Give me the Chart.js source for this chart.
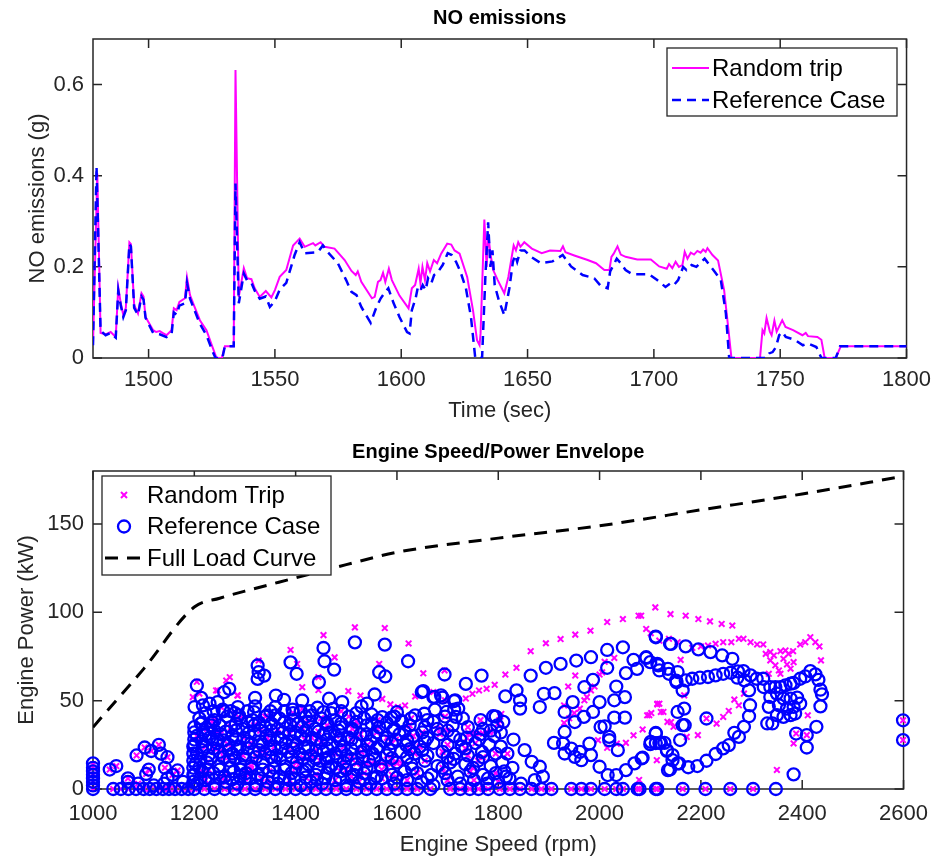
<!DOCTYPE html>
<html>
<head>
<meta charset="utf-8">
<script src="https://cdn.jsdelivr.net/npm/chart.js@4.4.0/dist/chart.umd.min.js"></script>
<style>
  body { margin: 0; background: #fff; }
  canvas { position: absolute; left: 0; }
</style>
</head>
<body>
<canvas id="noChart" width="940" height="430" style="top:0"></canvas>
<canvas id="envChart" width="940" height="432" style="top:430px"></canvas>
<script>
// ---- NO emissions over time ----
const tripTime = [1478,1479.7,1481,1483,1485,1487,1488,1489,1490,1491,1492.4,1493,1494.3,1495.8,1497.2,1498,1498.8,1501.8,1503,1504.4,1505.5,1507.1,1509.1,1510,1511.1,1512.2,1514.4,1515.2,1516.4,1518,1520.3,1522.9,1525.3,1526.9,1529,1530.2,1533.7,1534.4,1535.7,1537.7,1539,1540.7,1542,1544,1546.4,1548.6,1550,1551.9,1554.5,1557.2,1559.8,1561.8,1565.1,1566,1568.1,1569.7,1573.6,1577.6,1580.3,1582,1582.8,1584.2,1588.4,1589.5,1590.8,1591.8,1592.8,1593.7,1595.1,1596.3,1599.3,1602.9,1604.2,1605.5,1606.9,1607.6,1608.4,1609.4,1610.3,1611.4,1612.9,1614.2,1615.8,1618.2,1619.8,1621.1,1623.1,1626.1,1628.4,1630,1631,1631.4,1632.9,1633.8,1634.4,1635.3,1636.4,1638.2,1640.8,1642.4,1644.5,1645.4,1646.3,1647.2,1648.7,1651.7,1655.6,1658.9,1663,1664,1665,1668.5,1673.8,1677.1,1680.4,1682.4,1683.2,1684.1,1685.6,1686.9,1688.8,1693.4,1698.8,1702.1,1705.1,1706,1707.3,1708.6,1709.9,1711.3,1712.2,1713.3,1714.6,1715.9,1717.2,1718.5,1719.5,1720.5,1721.2,1723.2,1725.4,1727.8,1729.4,1730.7,1742,1743,1743.7,1744.6,1745.9,1746.6,1747.7,1748.6,1750.8,1752.1,1755.1,1758.8,1760.1,1761,1764.7,1766.3,1767.6,1772,1774,1800];
const tripNO = [0.03,0.405,0.055,0.052,0.057,0.046,0.155,0.12,0.094,0.11,0.254,0.25,0.116,0.098,0.142,0.135,0.09,0.061,0.057,0.059,0.055,0.05,0.061,0.109,0.105,0.123,0.131,0.177,0.138,0.115,0.083,0.061,0.024,0,0,0.026,0.026,0.632,0.134,0.197,0.175,0.173,0.153,0.134,0.147,0.133,0.149,0.178,0.193,0.247,0.262,0.244,0.252,0.247,0.254,0.244,0.24,0.215,0.191,0.182,0.19,0.167,0.131,0.134,0.167,0.171,0.187,0.167,0.196,0.171,0.137,0.109,0.153,0.16,0.196,0.164,0.2,0.171,0.208,0.19,0.215,0.208,0.229,0.251,0.249,0.236,0.229,0.178,0.105,0.039,0.028,0.054,0.304,0.2,0.273,0.229,0.193,0.171,0.142,0.178,0.247,0.236,0.254,0.244,0.254,0.24,0.23,0.236,0.235,0.245,0.232,0.225,0.215,0.208,0.193,0.193,0.222,0.229,0.245,0.227,0.222,0.216,0.216,0.201,0.196,0.206,0.197,0.211,0.2,0.204,0.233,0.218,0.231,0.227,0.235,0.231,0.238,0.233,0.241,0.226,0.214,0.149,0.068,0,0,0.061,0.054,0.088,0.058,0.05,0.082,0.058,0.083,0.068,0.061,0.05,0.055,0.048,0.046,0.04,0,0,0.026,0.026];

const refTime = [1478,1479.4,1481,1483,1485,1487,1488,1489,1490,1491,1492.4,1493,1494.3,1495.8,1497.2,1498,1498.8,1501.8,1504.4,1507.1,1509.1,1510,1511.1,1512.2,1514.4,1515.2,1516.4,1520.3,1522.9,1525.3,1526.5,1529.2,1530.2,1533.7,1534.4,1535.7,1537.7,1539,1540.7,1542,1544,1546.4,1548,1550,1551.9,1554.5,1557.8,1559.8,1561.8,1567,1569,1571,1574.9,1578.2,1580.3,1582.3,1584.2,1587.9,1590.2,1591.9,1593.3,1594.9,1597,1599.3,1602.3,1603.3,1604.2,1605.7,1606.6,1607.7,1608.5,1609.7,1610.6,1611.9,1613,1614.3,1616.4,1618.4,1620,1621.7,1623.4,1625.6,1627.6,1629.3,1632,1633.3,1634.4,1635.3,1636.1,1637,1638.6,1640.8,1642.8,1644.2,1645.1,1645.9,1647.2,1648.8,1651.4,1655.3,1659.9,1663.9,1667.2,1671.8,1676.4,1679,1681.7,1682.7,1685.3,1686.9,1688.8,1691.4,1698,1701.3,1704.6,1706.6,1707.9,1709.6,1711.6,1712.9,1714.9,1716.8,1720.1,1722,1724,1726.5,1728.5,1729.8,1744.3,1745.6,1747,1748.3,1749.6,1750.9,1752.2,1755.7,1759,1761,1764.3,1766.3,1772,1773.7,1800];
const refNO = [0.028,0.42,0.06,0.05,0.055,0.045,0.148,0.115,0.09,0.105,0.25,0.245,0.11,0.095,0.135,0.128,0.088,0.055,0.052,0.046,0.052,0.1,0.095,0.115,0.12,0.165,0.13,0.075,0.05,0.015,0,0,0.026,0.026,0.383,0.12,0.185,0.17,0.165,0.148,0.13,0.135,0.112,0.125,0.15,0.165,0.226,0.254,0.23,0.232,0.247,0.232,0.208,0.171,0.145,0.138,0.112,0.077,0.112,0.131,0.142,0.153,0.12,0.09,0.057,0.054,0.105,0.131,0.156,0.149,0.16,0.149,0.175,0.164,0.182,0.187,0.204,0.23,0.226,0.211,0.19,0.153,0.09,0,0,0.178,0.298,0.2,0.236,0.16,0.127,0.094,0.153,0.211,0.226,0.211,0.236,0.236,0.222,0.208,0.212,0.226,0.201,0.182,0.175,0.158,0.153,0.19,0.218,0.208,0.193,0.184,0.184,0.171,0.156,0.164,0.16,0.171,0.2,0.193,0.204,0.2,0.218,0.204,0.19,0.171,0.098,0,0,0.01,0.013,0.024,0.05,0.057,0.046,0.04,0.028,0.032,0.024,0,0,0.026,0.026];

const timeTicks = [1500, 1550, 1600, 1650, 1700, 1750, 1800];
const noTicks = [0, 0.2, 0.4, 0.6];

// ---- Engine speed / power envelope ----
const fullLoadRpm = [1000, 1100, 1200, 1250, 1300, 1400, 1500, 1600, 1800, 2000, 2200, 2400, 2600];
const fullLoadKw  = [35, 68, 103, 108, 112, 119.5, 127, 134, 142, 149, 158, 167, 177];

const refIdleRpm = [1040,1055,1070,1085,1100,1112,1125,1138,1150,1162,1175,1188,1200,1220,1240,1260,1280,1300,1320,1340,1360,1380,1400,1420,1440,1460,1480,1500,1520,1540,1560,1580,1600,1620,1640,1666,1705,1725,1744,1761,1780,1803,1823,1843,1866,1885,1905,1944,1964,1983,2010,2033,2046,2075,2079,2111,2114,2164,2209,2258,2303,2348];
const tripIdleRpm = [1040,1055,1070,1085,1100,1112,1125,1138,1150,1162,1175,1188,1200,1220,1240,1260,1280,1300,1320,1340,1360,1380,1400,1420,1440,1460,1480,1500,1520,1540,1560,1580,1600,1620,1640,1666,1705,1725,1744,1761,1780,1803,1823,1843,1866,1885,1905,1944,1964,1983,2010,2033,2046,2075,2079,2111,2114,2164,2209,2258,2303];

const refCasePoints = [
  [1000,0],[1000,2],[1000,4],[1000,6],[1000,8],[1000,10],[1000,12],[1000,14.5],
  [1033,11],[1046,13],[1069,6],[1069,4],[1086,19],[1102,23.5],[1115,21.5],[1130,25],[1134,20],[1147,18],[1089,3],[1105,8.5],[1110,11],[1142,12],[1147,6],[1157,8],[1167,10.5],[1140,3],[1120,2],[1178,4],
  [1198,4],[1198,8],[1198,12],[1198,16],[1198,20],[1198,24],[1200,28],[1200,32],
  [1205,58.6],[1200.5,46.4],[1217,47.3],[1213.5,51.6],[1230,48.3],[1246,49.2],[1259,54.8],[1269,56.7],[1256,44.9],[1272,44.1],[1286,46.4],[1288,41.7],[1213,37],[1233,36],[1222,30.4],
  [1325,69.9],[1327,66.1],[1325,62.3],[1338,64.2],[1320,51.6],[1320,46.8],[1361,52.9],[1377,50.5],[1394,44.9],[1390,71.7],[1402,65.2],[1343,41.7],[1360,46.4],[1360,41.7],[1413,50.1],[1432,41.7],[1443,46],[1446,60.5],[1455,79.8],[1457,72.3],[1476,67.6],[1466,51.1],[1474,45.4],[1492,49.2],
  [1517,83],[1530,46.8],[1541,48.3],[1556,53.5],[1565,66.1],[1577,63.7],[1576,81.7],[1550,42.2],[1571,40.7],[1589,40.4],[1609,38.5],[1622,72.3],[1636,41.7],[1652,55.4],[1654,42.6],[1694,64.8],[1672,52],[1687,53],[1715,50.2],[1721,45.5],[1736,59.5],[1767,64.2],[1649,54.9],[1674,52.1],[1690,51.7],[1713,49.8],[1675,44.9],[1698,43.6],[1713,44.9],[1716,40.8],[1790,41.2],
  [1814,52.4],[1836,55.8],[1864,64.2],[1894,68.6],[1923,70.8],[1954,72.7],[1983,74.6],[2015,78.7],[2046,80.2],[2067,73.1],[2074,68],[2092,74.2],[2111,85.9],[2114,70.8],[2135,68],[2141,82.1],[2151,61.4],
  [1843,50.2],[1843,45.5],[1890,53.9],[1911,54.3],[1882,46.4],[1931,43.6],[1947,49.2],[1970,57.7],[1987,61.8],[2000,49.2],[2015,68.6],[2033,58],[2050,52],[2029,50.2],[2052,65.6],
  [1931,32.3],[1951,37.9],[1969,40.8],[1987,43.6],[2002,35.1],[2010,35.5],[2019,29.5],[2029,40.4],[2050,40.4],[2036,22],[2019,27.6],
  [1910,26.1],[1928,25.7],[1944,22.9],[1961,21],[1980,25.7],[1931,20.1],[1951,18.2],[1964,16.3],[1983,19.2],[2000,12.6],[2016,7.9],[2033,7.9],[2052,10.7],[2069,14.5],[2083,17.3],
  [1852,22],[1866,15.4],[1882,12.6],[1888,7],[1872,5],
  [2111,31.7],[2101,26.7],[2118,26.1],[2128,26.1],[2133,22],[2144,16.3],[2154,14.5],[2135,10.7],
  [2111,86.3],[2139,82.2],[2170,80.7],[2195,79],[2219,77.5],[2242,75.6],[2262,73.7],
  [2092,74.6],[2100,71.8],[2116,70],[2118,67.1],[2137,65.2],[2154,66.2],[2152,60.5],[2170,61.5],[2164,55.8],[2183,62.4],[2198,63],[2214,63.4],[2229,64.3],[2244,65.2],[2259,65.8],[2273,66.6],[2284,66.7],[2272,63],[2286,61.5],[2295,55.8],[2298,64.3],[2310,62.4],[2323,62.4],
  [2324,57.7],[2337,57.7],[2347,57.7],[2357,57.7],[2367,58.7],[2377,59.6],[2383,60],[2337,52.1],[2350,54],[2363,51.2],[2377,51.2],[2390,51.7],[2334,46.5],[2354,47.4],[2370,45.5],[2383,46.5],[2331,37.1],[2341,37.1],[2350,41.8],[2363,40.8],[2377,41.8],[2386,42.7],[2396,48.3],
  [2396,62.4],[2406,63.7],[2416,66.7],[2426,64.9],[2432,61.8],[2436,56.2],[2439,53.6],[2436,46.8],[2428,35.2],[2388,31.4],[2409,30.5],[2409,23.5],[2383,8.3],
  [2297,47.4],[2295,41.2],[2285,35.2],[2275,29.5],[2266,31.8],[2255,24.8],[2244,23],[2229,19.8],[2211,16],[2193,13],[2175,12.3],[2157,14.5],[2139,11.1],[2144,19.2],[2133,21.6],[2085,17.7],
  [2167,45.5],[2168,36.1],[2154,43.6],[2164,36.1],[2159,27.7],[2111,31.4],[2111,26],[2100,25.4],[2121,26.2],[2211,39.9],
  [2599,38.9],[2599,27.7],
  // dense low-load region
  [1205,3],[1222,5],[1240,2],[1262,4],[1285,3],[1300,6],[1322,2],[1345,4],[1365,3],[1388,5],[1410,2],[1430,4],[1452,3],[1478,5],[1500,2],[1525,4],[1548,3],[1570,6],[1595,3],[1620,5],[1648,4],[1672,2],[1700,5],[1725,3],[1752,5],[1778,3],[1800,4],[1822,6],[1845,3],
  [1200,8],[1215,10],[1238,9],[1260,7],[1278,10],[1302,9],[1325,8],[1348,10],[1368,7],[1392,9],[1415,10],[1440,8],[1462,9],[1488,10],[1515,8],[1535,9],[1560,7],[1590,8],[1615,10],[1640,9],[1668,8],[1695,9],[1720,7],[1745,10],[1770,8],[1795,9],[1815,7],
  [1202,14],[1225,15],[1248,13],[1270,16],[1290,14],[1312,13],[1335,15],[1358,16],[1380,13],[1402,15],[1425,14],[1448,16],[1470,13],[1495,15],[1520,14],[1545,16],[1568,13],[1600,15],[1628,14],[1655,16],[1680,13],[1705,15],[1735,14],[1760,16],[1785,13],[1808,15],
  [1205,20],[1228,19],[1250,21],[1275,20],[1296,19],[1318,21],[1340,20],[1362,19],[1385,21],[1408,20],[1430,19],[1455,21],[1478,20],[1500,19],[1530,21],[1552,20],[1580,19],[1608,21],[1635,20],[1660,19],[1690,21],[1715,20],[1740,19],[1768,21],[1795,20],
  [1200,25],[1222,24],[1245,26],[1268,25],[1290,24],[1312,26],[1335,25],[1358,24],[1380,26],[1402,25],[1425,24],[1450,26],[1472,25],[1495,24],[1518,26],[1542,25],[1565,24],[1590,26],[1618,25],[1645,24],[1672,26],[1700,25],[1728,24],[1755,26],[1782,25],[1805,24],
  [1205,30],[1230,29],[1252,31],[1275,30],[1298,29],[1320,31],[1342,30],[1365,29],[1388,31],[1410,30],[1432,29],[1455,31],[1480,30],[1505,29],[1528,31],[1555,30],[1580,29],[1605,31],[1632,30],[1660,29],[1685,31],[1712,30],[1738,29],[1765,31],[1792,30],
  [1200,35],[1225,34],[1250,36],[1272,35],[1295,34],[1318,36],[1340,35],[1365,34],[1390,36],[1412,35],[1438,34],[1462,36],[1488,35],[1512,34],[1540,36],[1565,35],[1595,34],[1625,36],[1655,35],[1680,34],[1710,36],[1740,35],[1770,34],[1798,36],
  [1210,40],[1240,39],[1265,41],[1290,40],[1315,39],[1340,41],[1368,40],[1395,39],[1420,41],[1450,40],[1478,39],[1505,41],[1535,40],[1562,39],[1595,41],[1628,40],[1660,39],[1695,41],[1730,40],[1765,39],[1795,41],
  [1212,6],[1250,11],[1232,17],[1268,22],[1245,28],[1282,33],[1222,43],[1258,44],
  [1310,6],[1335,11],[1352,18],[1372,23],[1330,27],[1352,33],[1305,44],[1378,44],
  [1398,6],[1420,11],[1440,17],[1418,23],[1462,28],[1400,32],[1428,44],[1470,43],
  [1458,6],[1480,12],[1465,18],[1490,22],[1440,28],[1485,33],
  [1520,11],[1555,17],[1575,27],[1540,31],[1610,38],[1585,22],
  [1228,6],[1250,6.5],[1275,5.5],[1290,7],[1332,6],[1355,7],[1378,6],[1420,6.5],[1442,5.5],[1488,6],[1510,7],[1535,5.5],[1555,6],[1600,6.5],
  [1210,12],[1228,11],[1272,12],[1292,11],[1312,11.5],[1358,12],[1378,11],[1400,12],[1445,11.5],[1465,12],[1500,11],[1540,12],[1570,11],[1630,11.5],
  [1212,17],[1258,18],[1280,17.5],[1300,17],[1322,18],[1370,17],[1392,18],[1415,17.5],[1460,17],[1482,18],[1510,17],[1532,18],[1590,17.5],[1620,18],
  [1215,22],[1238,23],[1285,22.5],[1305,23],[1328,22],[1350,22.5],[1395,23],[1440,22],[1462,23],[1510,22.5],[1535,22],[1560,23],[1625,22.5],[1650,22],
  [1215,27],[1235,28],[1258,27.5],[1282,28],[1305,27],[1348,27.5],[1372,28],[1395,27],[1418,28],[1488,27.5],[1510,28],[1548,27],[1598,28],[1620,27.5],
  [1218,32],[1240,33],[1262,32.5],[1308,32],[1330,33],[1375,32],[1420,33],[1445,32.5],[1468,32],[1512,33],[1560,32],[1592,33],[1615,32.5],[1650,32],
  [1215,37.5],[1235,38],[1282,37],[1305,38],[1328,37.5],[1352,37],[1378,38],[1405,37],[1425,38],[1462,37.5],[1490,37],[1520,38],[1550,37],[1580,37.5],
  [1238,44],[1280,43],[1318,43.5],[1350,44],[1395,43],[1410,44],[1455,43.5],[1490,44],[1520,43],[1600,43.5],
  [1660,6],[1690,12],[1712,17],[1735,23],[1762,28],[1785,33],[1810,38],[1828,12],[1818,20],[1830,28],
  [1805,32],[1780,6],[1750,12],[1725,28],[1700,33],[1672,38],[1655,27],[1700,18],[1770,18],[1812,10]
];

const randomTripPoints = [
  [1000,0],[1000,4],[1000,8],[1000,12],[1000,14],
  [1033,11],[1046,13],[1069,6],[1086,19],[1102,23.5],[1115,21.5],[1130,25],[1147,18],[1105,8.5],[1110,11],[1142,12],[1157,8],[1167,10.5],[1089,3],
  [1205,60.7],[1197,52],[1210,54],[1243,55.8],[1263,61.4],[1270,63.3],[1285,53],[1254,46],[1246,55.8],[1286,52.9],
  [1327,72.7],[1390,78.7],[1403,70.8],[1413,57.6],[1413,45.4],[1445,63.3],[1445,56],[1455,87.1],[1477,74.5],[1504,55.4],[1517,91.5],[1528,52.9],[1565,70.8],[1576,91.1],[1571,51],[1587,47.9],[1602,46.4],[1616,47.3],[1623,82.4],[1636,52.4],[1652,65.5],
  [1694,67.1],[1749,53.9],[1762,55.8],[1777,56.7],[1793,59],[1814,64.8],[1836,68.6],[1864,78],[1894,82.5],[1923,84.9],[1952,87.4],[1982,89.6],[2015,94.5],[2046,96.2],[2077,98.1],[2110,102.8],[2140,99],[2170,98.1],[2195,96.2],[2218,94.9],[2241,93.4],[2262,92.5],
  [1672,54.9],[1695,50.2],[1736,51.2],[1930,47.3],[1938,58],[1952,64.2],[1970,50.2],[1983,55.8],[2000,64.8],[2029,74.2],
  [1930,37.4],[1940,40],[1950,43],[1961,45.5],[1975,52],[1990,58],[2005,66],[2010,72],
  [1997,27.6],[2015,23.3],[2034,25.7],[2052,26.1],[2067,30.4],[2094,41.7],[2102,43],[2114,47.9],[2126,43.6],[2141,37.9],[2113,16.3],[2078,5.1],
  [2092,90.6],[2101,88.2],[2118,84],[2137,85],[2154,83.1],[2183,79.9],[2200,80.7],[2214,81.2],[2229,82.2],[2244,83.1],[2260,83.1],[2275,85],[2284,85],[2298,83.1],[2311,81.8],[2323,81.8],[2328,76.5],[2337,77.5],[2357,78],[2367,78.4],[2382,78],[2396,81.8],[2406,83.1],[2416,85.9],[2426,83.1],[2434,80.7],[2437,72.8],
  [2337,72.8],[2347,70],[2354,67.1],[2363,73.7],[2370,70.5],[2377,68.1],[2383,71.8],[2357,65.2],[2334,65.2],[2344,75.6],[2373,76.5],
  [2160,73.1],[2167,53],[2383,25.8],[2411,41.7],[2350,10.8],[2388,31.4],[2409,30.5],
  [2211,39.9],[2231,37],[2244,40.8],[2255,44.2],[2266,50.6],[2275,47.4],[2285,54],[2194,30.5],[2172,29.5],[2114,48.3],[2118,48.3],[2098,41.8],[2121,43.6],[2085,33.7],[2134,38],[2146,35.2],[2082,98.1],
  [2599,38.9],[2599,27.7],
  [1741,31.4],[1748,31.4],[1755,31.4],[1762,31.4],[1769,31.4],[1776,31.6],[1783,32],
  [1800,37],[1802,39],[1804,41],[1806,42.5],
  [1520,14.4],[1530,14.4],[1540,14.4],[1550,14.4],[1560,14.4],[1570,14.4],[1580,14.4],[1590,14.4],[1600,14.4],[1610,14.4],
  [1222,5],[1262,4],[1300,6],[1345,4],[1388,5],[1430,4],[1478,5],[1525,4],[1570,6],[1620,5],[1700,5],[1752,5],[1800,4],
  [1215,10],[1260,7],[1302,9],[1348,10],[1392,9],[1440,8],[1488,10],[1535,9],[1590,8],[1640,9],[1695,9],[1745,10],[1795,9],
  [1225,15],[1270,16],[1312,13],[1358,16],[1402,15],[1448,16],[1495,15],[1545,16],[1600,15],[1655,16],[1705,15],[1760,16],
  [1205,20],[1250,21],[1296,19],[1340,20],[1385,21],[1430,19],[1478,20],[1530,21],[1580,19],[1635,20],[1690,21],[1740,19],[1795,20],
  [1222,24],[1268,25],[1312,26],[1358,24],[1402,25],[1450,26],[1495,24],[1542,25],[1590,26],[1645,24],[1700,25],[1755,26],
  [1205,30],[1252,31],[1298,29],[1342,30],[1388,31],[1432,29],[1480,30],[1528,31],[1580,29],[1632,30],[1685,31],[1738,29],
  [1225,34],[1272,35],[1318,36],[1365,34],[1412,35],[1462,36],[1512,34],[1565,35],[1625,36],[1680,34],[1740,35],
  [1240,39],[1290,40],[1340,41],[1395,39],[1450,40],[1505,41],[1562,39],[1628,40],[1695,41],[1765,39],
  [1250,6.5],[1332,6],[1420,6.5],[1510,7],[1600,6.5],[1228,11],[1312,11.5],[1400,12],[1500,11],[1570,11],
  [1258,18],[1322,18],[1415,17.5],[1510,17],[1590,17.5],[1238,23],[1328,22],[1440,22],[1535,22],[1625,22.5],
  [1258,27.5],[1348,27.5],[1418,28],[1510,28],[1598,28],[1240,33],[1330,33],[1445,32.5],[1560,32],[1650,32],
  [1235,38],[1328,37.5],[1425,38],[1520,38],[1280,43],[1395,43],[1490,44],
  [1690,12],[1735,23],[1785,33],[1818,20],[1750,12],[1700,33],[1770,18]
];

const rpmTicks = [1000, 1200, 1400, 1600, 1800, 2000, 2200, 2400, 2600];
const kwTicks = [0, 50, 100, 150];

// ---- shared styling ----
const FONT = '"Liberation Sans", Arial, Helvetica, sans-serif';
const axisColor = '#262626';
const magenta = '#ff00ff';
const blue = '#0000ff';

Chart.defaults.font.family = FONT;
Chart.defaults.color = axisColor;

const xy = (xs, ys) => xs.map((x, i) => ({ x, y: ys[i] }));
const pairs = list => list.map(p => ({ x: p[0], y: p[1] }));
const fixTicks = values => scale => { scale.ticks = values.map(v => ({ value: v })); };

// box around the axes with inward tick marks on all four sides, plus the bold heading
const boxFrame = {
  id: 'boxFrame',
  beforeDatasetsDraw(chart, args, o) {
    const { ctx, chartArea: a, scales: { x, y } } = chart;
    const len = 9;
    ctx.save();
    ctx.strokeStyle = axisColor;
    ctx.lineWidth = 1.5;
    ctx.strokeRect(a.left, a.top, a.right - a.left, a.bottom - a.top);
    ctx.beginPath();
    x.ticks.forEach(t => {
      const px = x.getPixelForValue(t.value);
      ctx.moveTo(px, a.bottom); ctx.lineTo(px, a.bottom - len);
      ctx.moveTo(px, a.top); ctx.lineTo(px, a.top + len);
    });
    y.ticks.forEach(t => {
      const py = y.getPixelForValue(t.value);
      ctx.moveTo(a.left, py); ctx.lineTo(a.left + len, py);
      ctx.moveTo(a.right, py); ctx.lineTo(a.right - len, py);
    });
    ctx.stroke();
    ctx.fillStyle = '#000';
    ctx.font = 'bold 20px ' + FONT;
    ctx.textAlign = 'center';
    ctx.textBaseline = 'middle';
    ctx.fillText(o.heading, (a.left + a.right) / 2, o.headingY);
    ctx.restore();
  }
};

// legend drawn inside the axes, one row per dataset
const boxLegend = {
  id: 'boxLegend',
  afterDraw(chart, args, o) {
    const { ctx } = chart;
    ctx.save();
    ctx.fillStyle = '#fff';
    ctx.fillRect(o.left, o.top, o.width, o.height);
    ctx.strokeStyle = axisColor;
    ctx.lineWidth = 1.3;
    ctx.strokeRect(o.left, o.top, o.width, o.height);
    ctx.font = '24px ' + FONT;
    ctx.textBaseline = 'middle';
    chart.data.datasets.forEach((ds, i) => {
      const y = o.top + o.rowStart + i * o.rowGap;
      const x0 = o.left + o.sampleLeft, x1 = o.left + o.sampleRight, cx = (x0 + x1) / 2;
      ctx.strokeStyle = ds.borderColor;
      ctx.lineWidth = ds.showLine ? ds.borderWidth : ds.pointBorderWidth;
      ctx.setLineDash(ds.showLine && ds.borderDash ? ds.borderDash : []);
      ctx.beginPath();
      if (ds.showLine) {
        ctx.moveTo(x0, y); ctx.lineTo(x1, y);
      } else if (ds.pointStyle === 'circle') {
        ctx.arc(cx, y, ds.pointRadius, 0, Math.PI * 2);
      } else {
        const r = ds.pointRadius * 0.75;
        ctx.moveTo(cx - r, y - r); ctx.lineTo(cx + r, y + r);
        ctx.moveTo(cx - r, y + r); ctx.lineTo(cx + r, y - r);
      }
      ctx.stroke();
      ctx.setLineDash([]);
      ctx.fillStyle = '#000';
      ctx.fillText(ds.label, o.left + o.textLeft, y + 1);
    });
    ctx.restore();
  }
};

const tickFont = { size: 22 };
const labelFont = { size: 22 };

new Chart(document.getElementById('noChart'), {
  type: 'scatter',
  data: {
    datasets: [
      { label: 'Random trip', data: xy(tripTime, tripNO), showLine: true, borderColor: magenta,
        borderWidth: 2, pointRadius: 0, order: 1 },
      { label: 'Reference Case', data: xy(refTime, refNO), showLine: true, borderColor: blue,
        borderWidth: 2.5, borderDash: [9, 6], pointRadius: 0, order: 0 }
    ]
  },
  options: {
    responsive: false,
    animation: false,
    devicePixelRatio: 1,
    layout: { padding: { left: 0, right: 33, top: 39, bottom: 0 } },
    plugins: {
      legend: { display: false },
      tooltip: { enabled: false },
      title: { display: false },
      boxFrame: { heading: 'NO emissions', headingY: 18 },
      boxLegend: { left: 667, top: 48, width: 230, height: 68, rowStart: 20, rowGap: 32,
                   sampleLeft: 5, sampleRight: 42, textLeft: 45 }
    },
    scales: {
      x: {
        type: 'linear', min: 1478, max: 1800,
        afterBuildTicks: fixTicks(timeTicks),
        afterFit: s => { s.height = 72; },
        grid: { display: false, drawTicks: false },
        border: { display: false },
        ticks: { font: tickFont, padding: 9, maxRotation: 0, autoSkip: false, callback: v => String(v) },
        title: { display: true, text: 'Time (sec)', font: labelFont, padding: { top: 0, bottom: 6 } }
      },
      y: {
        min: 0, max: 0.7,
        afterBuildTicks: fixTicks(noTicks),
        afterFit: s => { s.width = 93; },
        grid: { display: false, drawTicks: false },
        border: { display: false },
        ticks: { font: tickFont, padding: 9, callback: v => (v === 0 ? '0' : v.toFixed(1)) },
        title: { display: true, text: 'NO emissions (g)', font: labelFont, padding: { top: 25, bottom: 0 } }
      }
    }
  },
  plugins: [boxFrame, boxLegend]
});

new Chart(document.getElementById('envChart'), {
  type: 'scatter',
  data: {
    datasets: [
      { label: 'Random Trip',
        data: pairs(randomTripPoints).concat(tripIdleRpm.map(r => ({ x: r, y: 0 }))),
        pointStyle: 'crossRot', pointRadius: 4, pointBorderWidth: 2, borderColor: magenta,
        pointBorderColor: magenta, backgroundColor: 'transparent', clip: false, order: 1 },
      { label: 'Reference Case',
        data: pairs(refCasePoints).concat(refIdleRpm.map(r => ({ x: r, y: 0 }))),
        pointStyle: 'circle', pointRadius: 6, pointBorderWidth: 2.3, borderColor: blue,
        pointBorderColor: blue, backgroundColor: 'transparent', clip: false, order: 0 },
      { label: 'Full Load Curve', data: xy(fullLoadRpm, fullLoadKw), showLine: true,
        borderColor: '#000', borderWidth: 3, borderDash: [13, 9], pointRadius: 0,
        cubicInterpolationMode: 'monotone', order: 2 }
    ]
  },
  options: {
    responsive: false,
    animation: false,
    devicePixelRatio: 1,
    layout: { padding: { left: 0, right: 33, top: 41, bottom: 0 } },
    plugins: {
      legend: { display: false },
      tooltip: { enabled: false },
      title: { display: false },
      boxFrame: { heading: 'Engine Speed/Power Envelope', headingY: 22 },
      boxLegend: { left: 102, top: 46, width: 229, height: 99, rowStart: 19, rowGap: 31.5,
                   sampleLeft: 3, sampleRight: 41, textLeft: 45 }
    },
    scales: {
      x: {
        type: 'linear', min: 1000, max: 2600,
        afterBuildTicks: fixTicks(rpmTicks),
        afterFit: s => { s.height = 73; },
        grid: { display: false, drawTicks: false },
        border: { display: false },
        ticks: { font: tickFont, padding: 12, maxRotation: 0, autoSkip: false, callback: v => String(v) },
        title: { display: true, text: 'Engine Speed (rpm)', font: labelFont, padding: { top: 0, bottom: 4 } }
      },
      y: {
        min: 0, max: 180,
        afterBuildTicks: fixTicks(kwTicks),
        afterFit: s => { s.width = 93; },
        grid: { display: false, drawTicks: false },
        border: { display: false },
        ticks: { font: tickFont, padding: 9 },
        title: { display: true, text: 'Engine Power (kW)', font: labelFont, padding: { top: 14, bottom: 0 } }
      }
    }
  },
  plugins: [boxFrame, boxLegend]
});
</script>
</body>
</html>
